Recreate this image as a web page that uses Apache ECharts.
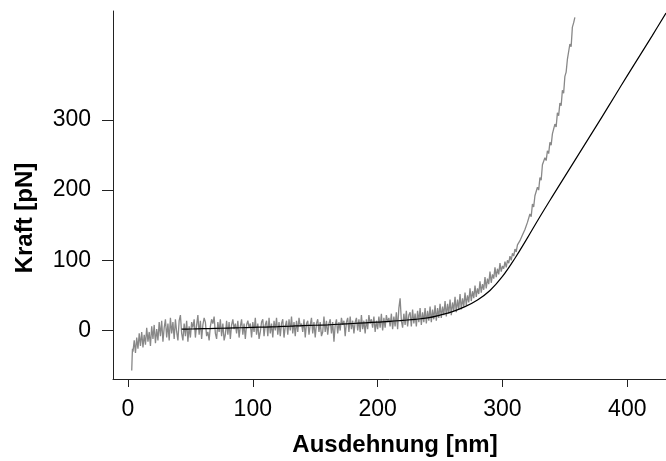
<!DOCTYPE html>
<html>
<head>
<meta charset="utf-8">
<script src="https://cdn.jsdelivr.net/npm/echarts@6/dist/echarts.min.js"></script>
<style>
html,body{margin:0;padding:0;background:#fff;}
#chart{width:666px;height:461px;}
</style>
</head>
<body>
<div id="chart"></div>
<script>
// Axis titles and ticks
const xTitle = "Ausdehnung [nm]";
const yTitle = "Kraft [pN]";
const xTicks = [0, 100, 200, 300, 400];
const yTicks = [0, 100, 200, 300];

// Fit curve (black): extension [nm], force [pN]
const fitExt   = [43, 50, 60, 70, 80, 90, 100, 110, 120, 130, 140, 150, 160, 170, 180, 190, 200, 210, 220, 230, 240, 250, 260, 270, 280, 290, 300, 310, 320, 330, 340, 350, 360, 370, 380, 390, 400, 410, 420, 431];
const fitForce = [2, 2.2, 2.6, 3, 3.5, 4, 4.5, 5, 5.5, 6.2, 7, 7.5, 8.2, 9, 10, 11, 12, 13, 14.5, 16, 18, 22, 27, 34, 43.5, 57, 77, 103, 132, 162, 191, 219.5, 248, 276.5, 305, 334, 363, 391.5, 420, 452];

// Measured trace (grey): extension [nm]
const traceExt = [3, 3.3, 3.6,
 4,5,6,7,8,9,10,11,12,13,14,15,16,17,18,19,20,21,22,23,24,25,26,27,28,29,30,31,32,33,34,35,36,37,38,39,
 40,41,42,43,44,45,46,47,48,49,50,51,52,53,54,55,56,57,58,59,60,61,62,63,64,65,66,67,68,69,
 70,71,72,73,74,75,76,77,78,79,80,81,82,83,84,85,86,87,88,89,90,91,92,93,94,95,96,97,98,99,
 100,101,102,103,104,105,106,107,108,109,110,111,112,113,114,115,116,117,118,119,120,121,122,123,124,125,126,127,128,129,
 130,131,132,133,134,135,136,137,138,139,140,141,142,143,144,145,146,147,148,149,150,151,152,153,154,155,156,157,158,159,
 160,161,162,163,164,165,166,167,168,169,170,171,172,173,174,175,176,177,178,179,180,181,182,183,184,185,186,187,188,189,
 190,191,192,193,194,195,196,197,198,199,200,201,202,203,204,205,206,207,208,209,210,211,212,213,214,215,216,217,218,219,
 220,221,222,223,224,225,226,227,228,229,230,231,232,233,234,235,236,237,238,239,240,241,242,243,244,245,246,247,248,249,
 250,251,252,253,254,255,256,257,258,259,260,261,262,263,264,265,266,267,268,269,270,271,272,273,274,275,276,277,278,279,
 280,281,282,283,284,285,286,287,288,289,290,291,292,293,294,295,296,297,298,299,300,301,302,303,304,305,306,307,308,309,
 310,311,312,313,314,315,316,317,318,319,320,321,322,323,324,325,326,327,328,329,330,331,332,333,334,335,336,337,338,339,
 340,341,342,343,344,345,346,347,348,349,350,351,352,353,354,355,356,357,358];
// Measured trace (grey): force [pN]
const traceForce = [-57, -40, -26,
 -30,-14,-32,-10,-26,-4,-22,-2,-24,-6,-20,4,-16,-2,-22,6,-12,8,-18,2,-14,12,-8,14,-16,4,16,-10,10,-14,18,-4,12,-12,16,-2,
 -14,14,22,-4,-14,10,-8,14,-16,6,-10,12,4,16,-10,8,22,-6,14,-12,8,18,12,-8,-2,-14,6,16,10,20,
 -4,-12,12,-2,16,-8,10,-14,-6,14,-6,12,-12,8,16,2,10,-4,14,-10,6,16,-6,10,-12,8,14,4,10,-10,
 12,-2,18,-6,10,-12,-2,12,16,-8,8,14,-8,18,-4,10,-10,14,0,18,-6,12,-8,10,16,-10,6,14,-6,16,
 0,20,-4,12,-8,14,-2,18,6,10,-2,16,-10,10,14,-6,8,18,-4,12,-10,10,16,-2,12,-8,-2,20,-2,14,
 -6,10,16,-4,12,-16,8,16,-4,12,0,18,8,14,-8,12,18,-2,20,2,14,-4,12,18,0,16,-2,22,2,14,
 -4,16,2,22,10,16,4,20,-2,14,2,20,4,24,0,18,4,22,12,18,6,24,2,20,6,26,2,32,46,14,
 4,24,8,28,6,22,26,6,30,10,24,6,28,12,32,8,26,12,32,10,28,14,34,12,30,16,36,14,32,18,
 38,18,34,22,42,20,38,24,44,22,40,28,48,26,44,30,52,30,46,34,54,36,50,40,60,42,56,46,64,48,
 60,52,70,54,66,58,76,60,74,66,84,68,80,74,90,76,88,80,96,84,92,88,98,90,100,96,106,100,110,106,
 116,112,122,120,128,126,136,134,144,143,154,152,166,162,180,176,192,190,204,200,218,214,236,234,246,242,256,252,268,264,
 280,278,294,290,310,306,324,320,342,338,362,368,386,384,408,404,432,438,446];

const fitData = fitExt.map((x, i) => [x, fitForce[i]]);
const traceData = traceExt.map((x, i) => [x, traceForce[i]]);

const chart = echarts.init(document.getElementById('chart'), null, {renderer: 'canvas'});
const axisColor = '#222';
const font = 'Liberation Sans, Arial, sans-serif';
chart.setOption({
  animation: false,
  backgroundColor: '#fff',
  grid: {left: 113, right: 0, top: 11, bottom: 82, containLabel: false},
  xAxis: {
    type: 'value', min: -12, max: 431,
    axisLine: {show: true, onZero: false, lineStyle: {color: axisColor, width: 1}},
    axisTick: {show: true, length: 8, customValues: xTicks, lineStyle: {color: axisColor, width: 1}},
    axisLabel: {customValues: xTicks, fontSize: 23, fontFamily: font, color: '#000', margin: 19},
    splitLine: {show: false}
  },
  yAxis: {
    type: 'value', min: -69, max: 455,
    axisLine: {show: true, onZero: false, lineStyle: {color: axisColor, width: 1}},
    axisTick: {show: true, length: 11, customValues: yTicks, lineStyle: {color: axisColor, width: 1}},
    axisLabel: {customValues: yTicks, fontSize: 23, fontFamily: font, color: '#000', margin: 22},
    splitLine: {show: false}
  },
  graphic: [
    {type: 'text', x: 395, y: 445, style: {text: xTitle, font: 'bold 24px ' + font, fill: '#000', align: 'center', verticalAlign: 'middle'}},
    {type: 'text', x: 25, y: 218, rotation: Math.PI / 2, style: {text: yTitle, font: 'bold 24px ' + font, fill: '#000', align: 'center', verticalAlign: 'middle'}}
  ],
  series: [
    {type: 'line', data: traceData, showSymbol: false, symbol: 'none', clip: true,
     lineStyle: {color: '#888', width: 1.3}, z: 2},
    {type: 'line', data: fitData, showSymbol: false, symbol: 'none', smooth: 0.4, clip: true,
     lineStyle: {color: '#000', width: 1.2}, z: 3}
  ]
});
</script>
</body>
</html>
